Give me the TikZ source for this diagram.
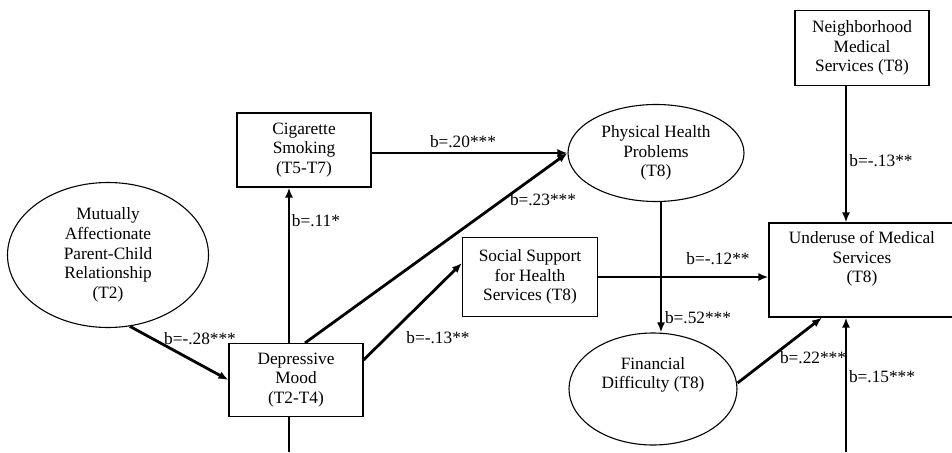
\documentclass[tikz,border=0pt]{standalone}
\usepackage{fontspec}
\setmainfont{Liberation Serif}
\usetikzlibrary{shapes.geometric,arrows.meta}
\begin{document}
\begin{tikzpicture}[x=1pt,y=-1pt,
  box/.style={draw,line width=1.1pt,rectangle,inner sep=0pt},
  oval/.style={draw,line width=1.1pt,ellipse,inner sep=0pt},
  txt/.style={align=center,font=\fontsize{17.3}{19.7}\selectfont,inner sep=0pt},
  lab/.style={font=\fontsize{17.3}{19.7}\selectfont,inner sep=0pt},
  arr/.style={line width=2.8pt,-{Latex[length=10pt,width=8pt]}},
  ln/.style={line width=2.8pt}]
\clip (0,0) rectangle (952,452);
% nodes
\node[oval,txt,minimum width=201pt,minimum height=145pt] (mut) at (108,255)
  {Mutually\\Affectionate\\Parent-Child\\Relationship\\(T2)};
\node[box,txt,minimum width=134pt,minimum height=73pt] (dep) at (296,380)
  {Depressive\\Mood\\(T2-T4)};
\node[box,txt,minimum width=134pt,minimum height=74pt] (cig) at (304,150)
  {Cigarette\\Smoking\\(T5-T7)};
\node[oval,txt,minimum width=176pt,minimum height=97pt] (phy) at (656,153)
  {Physical Health\\Problems\\(T8)};
\node[box,txt,minimum width=135pt,minimum height=79pt] (soc) at (530,277)
  {Social Support\\for Health\\Services (T8)};
\node[box,minimum width=186pt,minimum height=94pt] (und) at (862,270) {};
\node[txt] (undT) at (862,259) {Underuse of Medical\\Services\\(T8)};
\node[box,txt,minimum width=134pt,minimum height=75pt] (nei) at (862,48)
  {Neighborhood\\Medical\\Services (T8)};
\node[oval,minimum width=168pt,minimum height=112pt] (fin) at (653,389) {};
\node[txt] (finT) at (653,375) {Financial\\Difficulty (T8)};
% helper coordinates
\coordinate (xa) at (289,0);
\coordinate (xb) at (661,0);
\coordinate (xc) at (846,0);
\coordinate (depout) at (289,452);
\coordinate (undin) at (846,452);
% connectors
\draw[arr] (mut.-73) -- (dep.west);
\draw[arr] (dep.north -| xa) -- (cig.south -| xa);
\draw[ln] (dep.south -| xa) -- (depout);
\draw[arr] (cig.east |- phy.west) -- (phy.west);
\draw[arr] ([xshift=9pt]dep.north) -- (phy.west);
\draw[arr] ([yshift=20pt]dep.east) -- ([yshift=14pt]soc.west);
\draw[arr] (soc.east) -- (soc.east -| und.west);
\draw[arr] (phy.south -| xb) -- (fin.north -| xb);
\draw[arr] (nei.south -| xc) -- (und.north -| xc);
\draw[arr] ([yshift=6pt]fin.east) -- ([xshift=-40pt]und.south);
\draw[arr] (undin) -- (und.south -| xc);
% labels
\node[lab] (l1) at (200,339) {b=-.28***};
\node[lab] (l2) at (316,221) {b=.11*};
\node[lab] (l3) at (463,142) {b=.20***};
\node[lab] (l4) at (543,200) {b=.23***};
\node[lab] (l5) at (438,338) {b=-.13**};
\node[lab] (l6) at (718,259) {b=-.12**};
\node[lab] (l7) at (698,318) {b=.52***};
\node[lab] (l8) at (881,161) {b=-.13**};
\node[lab] (l9) at (813,358) {b=.22***};
\node[lab] (l10) at (882,377) {b=.15***};
\end{tikzpicture}
\end{document}
